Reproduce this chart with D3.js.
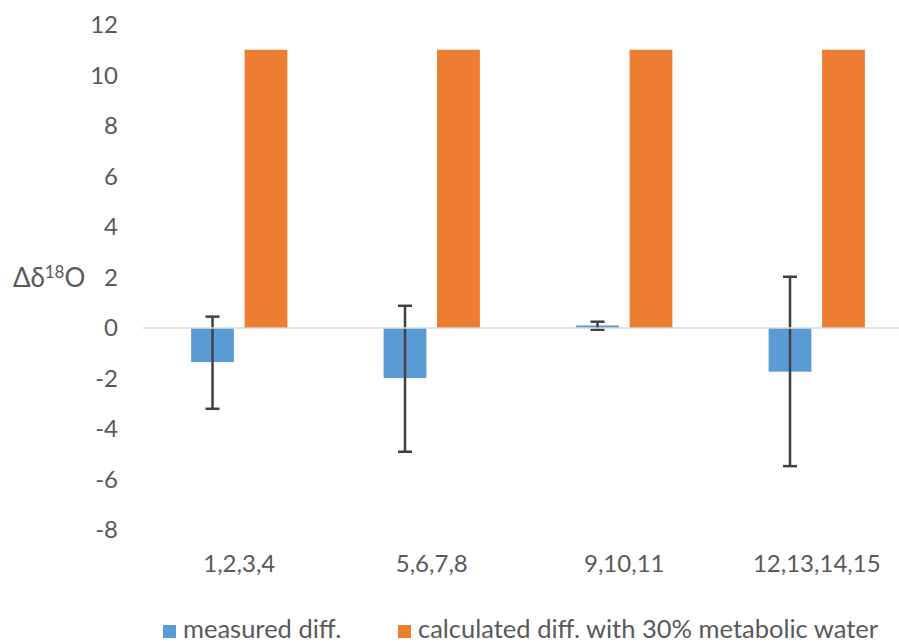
<!DOCTYPE html>
<html>
<head>
<meta charset="utf-8">
<script src="https://cdn.jsdelivr.net/npm/d3@7"></script>
<style>
  body { margin: 0; background: #fff; }
  text { font-family: Lato, "Open Sans", sans-serif; fill: #595959; }
</style>
</head>
<body>
<svg id="chart" width="899" height="644"></svg>
<script>
// Data
var categories = ["1,2,3,4", "5,6,7,8", "9,10,11", "12,13,14,15"];
var seriesNames = ["measured diff.", "calculated diff. with 30% metabolic water"];
var measured = [-1.35, -1.98, 0.1, -1.73];
var errUpper = [0.45, 0.88, 0.25, 2.03];
var errLower = [-3.2, -4.9, -0.07, -5.47];
var calculated = [11.02, 11.02, 11.02, 11.02];
var yTicks = [-8, -6, -4, -2, 0, 2, 4, 6, 8, 10, 12];
var colors = ["#5B9BD5", "#ED7D31"];

var fontSize = "24px";
var svg = d3.select("#chart");

// Scales
var y = d3.scaleLinear().domain([-8, 12]).range([530, 25]);
var x0 = d3.scaleBand().domain(categories).range([143, 913])
  .paddingInner(0.5).paddingOuter(0.25);
var x1 = d3.scaleBand().domain([0, 1]).range([0, x0.bandwidth()]).paddingInner(0.2);

// Build rows for the bars
var rows = categories.map((c, i) => ({
  cat: c,
  vals: [measured[i], calculated[i]],
  hi: errUpper[i],
  lo: errLower[i]
}));

// Y axis labels (no line, no ticks), plain hyphen for negatives
var yAxis = d3.axisLeft(y).tickValues(yTicks).tickSize(0).tickPadding(0)
  .tickFormat(d => String(d));
var ya = svg.append("g").attr("transform", "translate(118,0)").call(yAxis);
ya.select(".domain").remove();
ya.selectAll("text").style("font-size", fontSize).attr("fill", "#595959")
  .style("font-family", "Lato, 'Open Sans', sans-serif");

// Axis title
var title = svg.append("text")
  .attr("x", 13).attr("y", 287)
  .style("font-size", "26px");
title.append("tspan").text("Δδ");
title.append("tspan").text("18").attr("dy", -9).style("font-size", "17px");
title.append("tspan").text("O").attr("dy", 9);

// Bars
var groups = svg.append("g").selectAll("g")
  .data(rows)
  .enter().append("g")
  .attr("transform", d => "translate(" + x0(d.cat) + ",0)");

groups.selectAll("rect")
  .data(d => d.vals.map((v, k) => ({ v: v, k: k })))
  .enter().append("rect")
  .attr("x", d => x1(d.k))
  .attr("width", x1.bandwidth())
  .attr("y", d => y(Math.max(0, d.v)))
  .attr("height", d => Math.abs(y(d.v) - y(0)))
  .attr("fill", d => colors[d.k]);

// Zero line
svg.append("line")
  .attr("x1", 143).attr("x2", 913)
  .attr("y1", y(0)).attr("y2", y(0))
  .attr("stroke", "#d9d9d9").attr("stroke-width", 1.5);

// Error bars on measured series
var eb = groups.append("g").attr("stroke", "#404040").attr("stroke-width", 2.5);
var cx = x1(0) + x1.bandwidth() / 2;
eb.append("line").attr("x1", cx).attr("x2", cx)
  .attr("y1", d => y(d.hi)).attr("y2", d => y(d.lo));
eb.append("line").attr("x1", cx - 7).attr("x2", cx + 7)
  .attr("y1", d => y(d.hi)).attr("y2", d => y(d.hi));
eb.append("line").attr("x1", cx - 7).attr("x2", cx + 7)
  .attr("y1", d => y(d.lo)).attr("y2", d => y(d.lo));

// Category labels
svg.append("g").selectAll("text")
  .data(categories)
  .enter().append("text")
  .attr("x", d => x0(d) + x0.bandwidth() / 2)
  .attr("y", 572)
  .attr("text-anchor", "middle")
  .style("font-size", fontSize)
  .text(d => d);

// Legend
var legendX = [163, 398];
var legend = svg.append("g").selectAll("g")
  .data(seriesNames)
  .enter().append("g")
  .attr("transform", (d, i) => "translate(" + legendX[i] + ",625)");
legend.append("rect").attr("width", 13).attr("height", 13)
  .attr("fill", (d, i) => colors[i]);
legend.append("text").attr("x", 20).attr("y", 13)
  .style("font-size", "25.5px")
  .text(d => d);
</script>
</body>
</html>
